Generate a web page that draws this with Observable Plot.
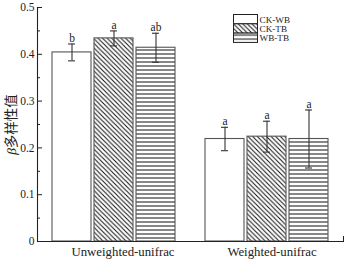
<!DOCTYPE html>
<html><head><meta charset="utf-8">
<script src="https://cdn.jsdelivr.net/npm/d3@7"></script>
<script src="https://cdn.jsdelivr.net/npm/@observablehq/plot@0.6"></script>
<style>
body{margin:0;background:#fff;}
#wrap{position:relative;width:347px;height:260px;}
#legend{position:absolute;left:233px;top:14px;}
</style></head><body><div id="wrap"></div>
<script>
const groups = ["Unweighted-unifrac", "Weighted-unifrac"];
const series = ["CK-WB", "CK-TB", "WB-TB"];
const unweightedMean = [0.404, 0.434, 0.414];
const unweightedErr = [0.018, 0.016, 0.031];
const unweightedLetter = ["b", "a", "ab"];
const weightedMean = [0.219, 0.224, 0.219];
const weightedErr = [0.025, 0.033, 0.062];
const weightedLetter = ["a", "a", "a"];
const yTicks = [0, 0.1, 0.2, 0.3, 0.4, 0.5];
const yMinorTicks = [0.05, 0.15, 0.25, 0.35, 0.45];
const yLabel = "β多样性值";

const fills = {"CK-WB": "white", "CK-TB": "url(#hatchDiag)", "WB-TB": "url(#hatchHoriz)"};
const FONT = "'Liberation Serif','Times New Roman','Noto Sans CJK SC',serif";

const rows = [];
groups.forEach((g, gi) => {
  const m = gi ? weightedMean : unweightedMean;
  const e = gi ? weightedErr : unweightedErr;
  const l = gi ? weightedLetter : unweightedLetter;
  series.forEach((s, i) => rows.push({group: g, series: s, mean: m[i], err: e[i], letter: l[i]}));
});

const barMarks = series.map(s => Plot.barY(rows, {
  filter: d => d.series === s, fx: "group", x: "series", y: "mean",
  fill: fills[s], stroke: "#555", strokeWidth: 1.1
}));

const svg = Plot.plot({
  width: 347, height: 260,
  marginLeft: 37, marginRight: 4, marginTop: 7, marginBottom: 19,
  style: {fontFamily: FONT, fontSize: "11.5px", color: "#222", background: "white"},
  fx: {domain: groups, padding: 0, label: null},
  x: {domain: series, axis: null, paddingInner: 0.08, paddingOuter: 0.35},
  y: {domain: [0, 0.5]},
  marks: [
    ...barMarks,
    Plot.ruleX(rows, {fx: "group", x: "series", y1: d => d.mean - d.err, y2: d => d.mean + d.err, stroke: "#333", strokeWidth: 1.1}),
    Plot.tickY(rows, {fx: "group", x: "series", y: d => d.mean + d.err, insetLeft: 16, insetRight: 16, stroke: "#333", strokeWidth: 1.1}),
    Plot.tickY(rows, {fx: "group", x: "series", y: d => d.mean - d.err, insetLeft: 16, insetRight: 16, stroke: "#333", strokeWidth: 1.1}),
    Plot.text(rows, {fx: "group", x: "series", y: d => d.mean + d.err, text: "letter", dy: -2, lineAnchor: "bottom", fontSize: 11.5, fill: "#222"}),
    Plot.ruleY([0], {stroke: "#222", strokeWidth: 1.1}),
    Plot.frame({anchor: "left", facetAnchor: "left", stroke: "#222", strokeWidth: 1.1}),
    Plot.frame({anchor: "right", facetAnchor: "right", insetTop: 229, stroke: "#222", strokeWidth: 1}),
    Plot.axisY({ticks: yTicks, tickSize: 0, tickPadding: 3, tickFormat: d => d === 0 ? "0" : d.toFixed(1),
      label: yLabel, labelAnchor: "center", labelArrow: "none", labelOffset: 31, fontSize: 11.5}),
    Plot.axisY({ticks: yTicks, tickSize: -5, tickFormat: () => "", label: null, stroke: "#222"}),
    Plot.axisY({ticks: yMinorTicks, tickSize: -3, tickFormat: () => "", label: null, stroke: "#222"}),
    Plot.axisFx({ticks: [groups[0]], anchor: "bottom", tickSize: 0, tickPadding: 5, label: null, fontSize: 12.8, dx: 9}),
    Plot.axisFx({ticks: [groups[1]], anchor: "bottom", tickSize: 0, tickPadding: 5, label: null, fontSize: 12.8, dx: 5})
  ]
});

d3.select(svg).insert("defs", ":first-child").html(`
  <pattern id="hatchDiag" patternUnits="userSpaceOnUse" width="4.6" height="4.6">
    <rect width="4.6" height="4.6" fill="white"/>
    <path d="M-1,-1 L5.6,5.6 M-1,3.6 L1,5.6 M3.6,-1 L5.6,1" stroke="#111" stroke-width="1"/>
  </pattern>
  <pattern id="hatchHoriz" patternUnits="userSpaceOnUse" width="8" height="4">
    <rect width="8" height="4" fill="white"/>
    <line x1="0" y1="2" x2="8" y2="2" stroke="#111" stroke-width="1"/>
  </pattern>`);

// italic β in the y label
svg.querySelectorAll("text").forEach(t => {
  if (t.textContent === yLabel) {
    t.textContent = "";
    d3.select(t).append("tspan").attr("font-style", "italic").text(yLabel[0]);
    d3.select(t).append("tspan").text(yLabel.slice(1));
    t.setAttribute("font-size", "13.5");
  }
});

const wrap = document.getElementById("wrap");
wrap.appendChild(svg);

// legend
const leg = d3.select(wrap).append("svg").attr("id", "legend").attr("width", 80).attr("height", 30);
const item = leg.selectAll("g").data(series).join("g").attr("transform", (d, i) => `translate(0.5,${0.5 + i * 9.3})`);
item.append("rect").attr("width", 24).attr("height", 9.3).attr("fill", d => fills[d]).attr("stroke", "#222").attr("stroke-width", 1);
item.append("text").attr("x", 26).attr("y", 8.3).attr("font-family", FONT).attr("font-size", 9.2).attr("fill", "#222").text(d => d);
</script></body></html>
